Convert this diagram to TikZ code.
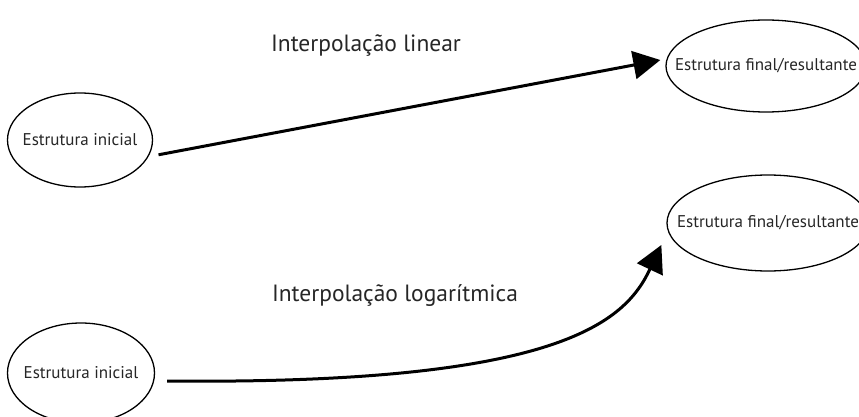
\documentclass[tikz,border=0pt]{standalone}
\usepackage{fontspec}
\setmainfont{PT Sans}
\usetikzlibrary{shapes.geometric,arrows.meta}
\newcommand{\ztext}[1]{\makebox[0pt]{#1}}
\begin{document}
\begin{tikzpicture}[x=1pt,y=-1pt,
  stbox/.style={draw=black,line width=1.3pt,ellipse,inner sep=0pt,text=black!85,font=\fontsize{17}{20}\selectfont},
  lbl/.style={font=\fontsize{23.5}{28}\selectfont,text=black!85},
  conn/.style={line width=3pt,-{Triangle[length=27pt,width=28pt]}}]
\useasboundingbox (0,0) rectangle (859,417);
\node[stbox,minimum width=145pt,minimum height=94pt] (e1) at (80,140) {\ztext{Estrutura inicial}};
\node[stbox,minimum width=200pt,minimum height=92pt] (e2) at (766,66) {\ztext{Estrutura final/resultante}};
\node[stbox,minimum width=202pt,minimum height=96pt] (e3) at (768,223) {\ztext{Estrutura final/resultante}};
\node[stbox,minimum width=147pt,minimum height=100pt] (e4) at (81,373) {\ztext{Estrutura inicial}};
\node[lbl] (l1) at (366,46) {Interpolação linear};
\node[lbl] (l2) at (395,296) {Interpolação logarítmica};
\draw[conn] ([xshift=9pt]e1.-12) -- ([shift={(-5pt,6pt)}]e2.west);
\draw[conn] ([shift={(12pt,-8pt)}]e4.east) .. controls (560,385) and (625,322) .. ([shift={(-5pt,-22pt)}]e3.west);
\end{tikzpicture}
\end{document}
